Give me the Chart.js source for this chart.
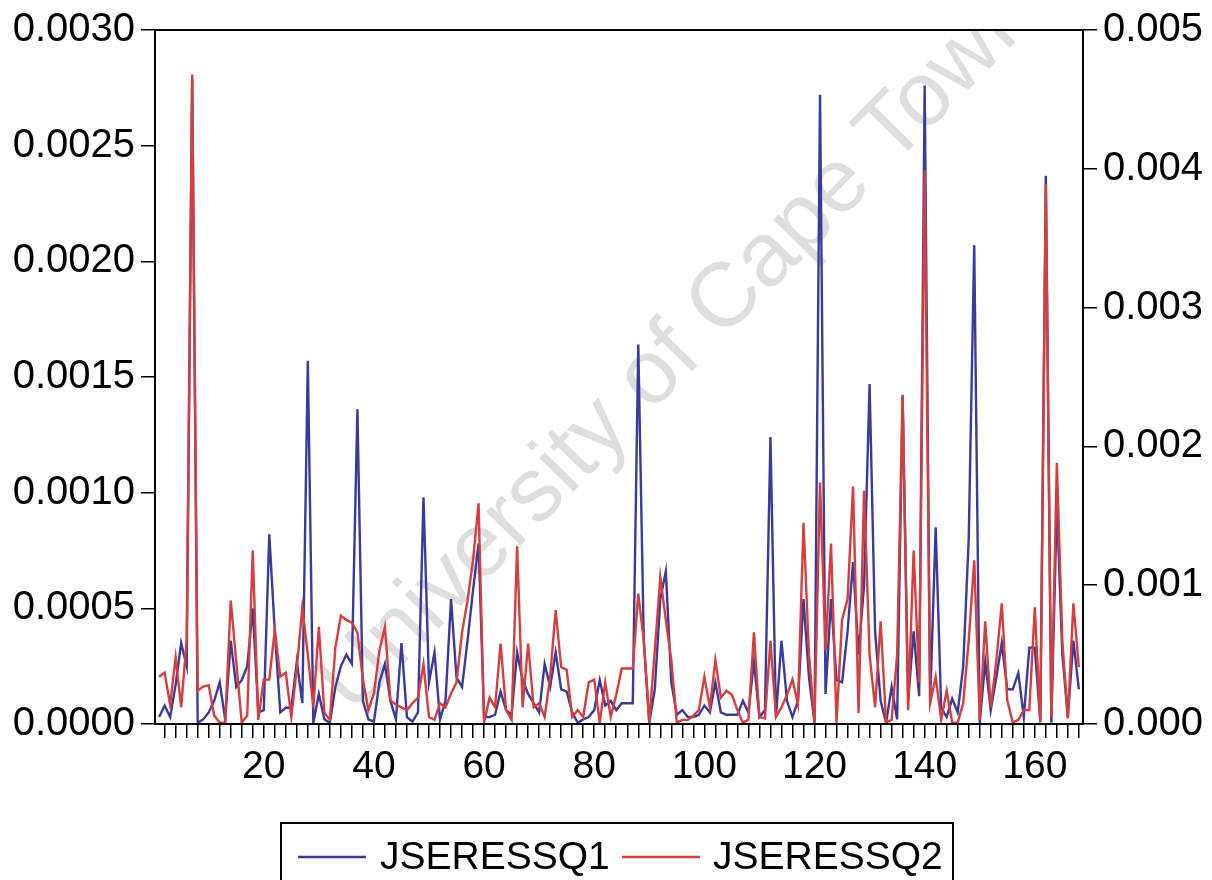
<!DOCTYPE html>
<html>
<head>
<meta charset="utf-8">
<title>JSERESSQ1 / JSERESSQ2</title>
<script src="https://cdn.jsdelivr.net/npm/chart.js@4.4.1/dist/chart.umd.min.js"></script>
<style>
  html, body { margin: 0; padding: 0; background: #fff; }
  #wrap { width: 1212px; height: 880px; }
</style>
</head>
<body>
<div id="wrap"><canvas id="chart" width="1212" height="880"></canvas></div>
<script>
// squared residuals, observations 1..168
const jseressq1 = [
  0.00003, 0.00008, 0.00003, 0.00017, 0.00035, 0.00025, 0.00279, 0.000005, 0.00002, 0.00005,
  0.00010, 0.00018, 0.00002, 0.00036, 0.00016, 0.00019, 0.00025, 0.00050, 0.00005, 0.00006,
  0.00082, 0.00040, 0.00005, 0.00007, 0.00007, 0.00027, 0.00009, 0.00157, 0.000005, 0.00013,
  0.00002, 0.000005, 0.00016, 0.00025, 0.00030, 0.00026, 0.00136, 0.00010, 0.00002, 0.00001,
  0.00018, 0.00026, 0.00010, 0.00002, 0.00035, 0.00003, 0.00001, 0.00005, 0.00098, 0.00018,
  0.00031, 0.00002, 0.00010, 0.00054, 0.00020, 0.00016, 0.00036, 0.00058, 0.00078, 0.00003,
  0.00003, 0.00004, 0.00014, 0.00006, 0.00004, 0.00031, 0.00019, 0.00013, 0.00009, 0.00005,
  0.00026, 0.00016, 0.00031, 0.00015, 0.00014, 0.00005, 0.000005, 0.00002, 0.00003, 0.00006,
  0.00019, 0.00008, 0.00010, 0.00006, 0.00009, 0.00009, 0.00009, 0.00164, 0.00036, 0.000005,
  0.00015, 0.00054, 0.00066, 0.00018, 0.00004, 0.00006, 0.00003, 0.00003, 0.00004, 0.00008,
  0.00005, 0.00018, 0.00005, 0.00004, 0.00004, 0.00004, 0.00010, 0.00005, 0.00027, 0.00003,
  0.00006, 0.00124, 0.00003, 0.00036, 0.00010, 0.00003, 0.00010, 0.00054, 0.00020, 0.000005,
  0.00272, 0.00013, 0.00054, 0.00019, 0.00018, 0.00040, 0.00070, 0.00030, 0.00060, 0.00147,
  0.00040, 0.00010, 0.000005, 0.00016, 0.00002, 0.00142, 0.00010, 0.00040, 0.00012, 0.00276,
  0.00010, 0.00085, 0.00007, 0.00003, 0.00011, 0.00005, 0.00025, 0.00080, 0.00207, 0.000005,
  0.00027, 0.00006, 0.00020, 0.00035, 0.00015, 0.00015, 0.00022, 0.00003, 0.00033, 0.00033,
  0.00001, 0.00237, 0.000005, 0.00095, 0.00030, 0.00003, 0.00036, 0.00015
];

const jseressq2 = [
  0.00034, 0.00037, 0.00014, 0.00048, 0.00012, 0.00060, 0.00468, 0.00024, 0.00027, 0.00028,
  0.00006, 0.00001, 0.00001, 0.00089, 0.00045, 0.00001, 0.00006, 0.00125, 0.00003, 0.00032,
  0.00032, 0.00068, 0.00034, 0.00037, 0.00005, 0.00040, 0.00084, 0.00050, 0.00012, 0.00070,
  0.00008, 0.00003, 0.00055, 0.00078, 0.00075, 0.00073, 0.00066, 0.00032, 0.00010, 0.00022,
  0.00053, 0.00070, 0.00017, 0.00014, 0.00012, 0.00010, 0.00015, 0.00019, 0.00043, 0.00005,
  0.00003, 0.00015, 0.00012, 0.00022, 0.00030, 0.00066, 0.00089, 0.00118, 0.00159, 0.00001,
  0.00019, 0.00012, 0.00058, 0.00010, 0.00003, 0.00128, 0.00012, 0.00058, 0.00012, 0.00015,
  0.00005, 0.00034, 0.00082, 0.00041, 0.00039, 0.00005, 0.00010, 0.00005, 0.00030, 0.00032,
  0.00001, 0.00030, 0.00005, 0.00021, 0.00040, 0.00040, 0.00040, 0.00094, 0.00060, 0.00001,
  0.00053, 0.00106, 0.00075, 0.00046, 0.00001, 0.00003, 0.00003, 0.00006, 0.00010, 0.00034,
  0.00012, 0.00046, 0.00019, 0.00024, 0.00021, 0.00010, 0.00001, 0.00003, 0.00066, 0.00005,
  0.00004, 0.00060, 0.00005, 0.00012, 0.00021, 0.00032, 0.00014, 0.00145, 0.00050, 0.00001,
  0.00174, 0.00053, 0.00130, 0.00001, 0.00075, 0.00090, 0.00171, 0.00008, 0.00168, 0.00050,
  0.00012, 0.00074, 0.00001, 0.00003, 0.00050, 0.00237, 0.00010, 0.00125, 0.00030, 0.00399,
  0.00015, 0.00034, 0.00003, 0.00024, 0.00001, 0.00001, 0.00015, 0.00060, 0.00118, 0.00003,
  0.00074, 0.00012, 0.00045, 0.00087, 0.00017, 0.00001, 0.00003, 0.00010, 0.00010, 0.00084,
  0.00001, 0.00389, 0.00005, 0.00188, 0.00060, 0.00004, 0.00087, 0.00041
];

const seriesNames = ['JSERESSQ1', 'JSERESSQ2'];
const seriesColors = ['#3a3a9c', '#d43e3e'];
const xLabelEvery = 20;
const watermarkText = 'University of Cape Town';

const FONT = "'Liberation Sans', Arial, sans-serif";
Chart.defaults.font.family = FONT;
Chart.defaults.color = '#000';

const nObs = jseressq1.length;
const toPoints = arr => arr.map((v, i) => ({ x: i + 1, y: v }));

// minor tick every second observation
const xTickValues = [];
for (let v = 2; v <= nObs; v += 2) xTickValues.push(v);

// faint diagonal stamp behind the lines
const watermark = {
  id: 'watermark',
  beforeDatasetsDraw(chart) {
    const { ctx, chartArea: a } = chart;
    ctx.save();
    ctx.beginPath();
    ctx.rect(a.left, a.top, a.right - a.left, a.bottom - a.top);
    ctx.clip();
    ctx.translate(353, 716);
    ctx.rotate(-45.5 * Math.PI / 180);
    ctx.font = `91px ${FONT}`;
    ctx.fillStyle = 'rgba(0,0,0,0.13)';
    ctx.textBaseline = 'alphabetic';
    ctx.fillText(watermarkText, 0, 0);
    ctx.restore();
  }
};

// closed frame round the plot plus boxed legend underneath
const frameAndLegend = {
  id: 'frameAndLegend',
  afterDraw(chart) {
    const { ctx, chartArea: a } = chart;
    ctx.save();
    ctx.strokeStyle = '#000';
    ctx.lineWidth = 2;
    ctx.strokeRect(a.left, a.top, a.right - a.left, a.bottom - a.top);

    // legend
    ctx.strokeRect(281, 823, 672, 80);
    const items = [
      { x0: 298, x1: 366, tx: 380 },
      { x0: 622, x1: 700, tx: 713 }
    ];
    ctx.font = `39px ${FONT}`;
    ctx.textBaseline = 'middle';
    ctx.fillStyle = '#000';
    ctx.lineWidth = 2.4;
    chart.data.datasets.forEach((ds, i) => {
      const it = items[i];
      ctx.strokeStyle = ds.borderColor;
      ctx.beginPath();
      ctx.moveTo(it.x0, 857);
      ctx.lineTo(it.x1, 857);
      ctx.stroke();
      ctx.fillText(ds.label, it.tx, 858);
    });
    ctx.restore();
  }
};

new Chart(document.getElementById('chart'), {
  type: 'line',
  data: {
    datasets: [
      {
        label: seriesNames[0],
        data: toPoints(jseressq1),
        yAxisID: 'y',
        borderColor: seriesColors[0],
        borderWidth: 2.4,
        pointRadius: 0,
        tension: 0,
        order: 1
      },
      {
        label: seriesNames[1],
        data: toPoints(jseressq2),
        yAxisID: 'y1',
        borderColor: seriesColors[1],
        borderWidth: 2.4,
        pointRadius: 0,
        tension: 0,
        order: 0
      }
    ]
  },
  options: {
    responsive: false,
    animation: false,
    devicePixelRatio: 1,
    layout: { padding: { top: 30, left: 0, right: 0, bottom: 0 } },
    plugins: { legend: { display: false }, tooltip: { enabled: false } },
    scales: {
      x: {
        type: 'linear',
        position: 'bottom',
        min: 0.25,
        max: nObs + 0.75,
        bounds: 'data',
        afterBuildTicks: s => { s.ticks = xTickValues.map(v => ({ value: v })); },
        ticks: {
          autoSkip: false,
          maxRotation: 0,
          minRotation: 0,
          padding: 6,
          font: { size: 39 },
          callback: v => (Math.round(v) % xLabelEvery === 0 ? String(Math.round(v)) : '')
        },
        grid: { drawOnChartArea: false, drawTicks: true, tickLength: 14, color: '#000', lineWidth: 1.5 },
        border: { display: true, color: '#000', width: 2 },
        afterFit: s => { s.height = 156; }
      },
      y: {
        position: 'left',
        min: 0,
        max: 0.003,
        ticks: {
          stepSize: 0.0005,
          padding: 6,
          font: { size: 40 },
          callback: v => v.toFixed(4)
        },
        grid: { drawOnChartArea: false, drawTicks: true, tickLength: 14, color: '#000', lineWidth: 1.5 },
        border: { display: true, color: '#000', width: 2 },
        afterFit: s => { s.width = 155; }
      },
      y1: {
        position: 'right',
        min: 0,
        max: 0.005,
        ticks: {
          stepSize: 0.001,
          padding: 6,
          font: { size: 40 },
          callback: v => v.toFixed(3)
        },
        grid: { drawOnChartArea: false, drawTicks: true, tickLength: 14, color: '#000', lineWidth: 1.5 },
        border: { display: true, color: '#000', width: 2 },
        afterFit: s => { s.width = 129; }
      }
    }
  },
  plugins: [watermark, frameAndLegend]
});
</script>
</body>
</html>
